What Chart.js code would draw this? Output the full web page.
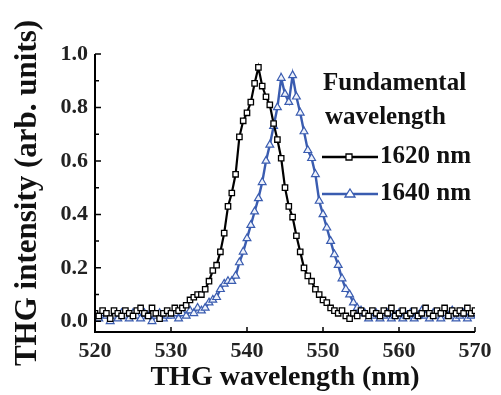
<!DOCTYPE html>
<html>
<head>
<meta charset="utf-8">
<script src="https://cdn.jsdelivr.net/npm/chart.js@4"></script>
<style>
html,body{margin:0;padding:0;background:#fff;}
#wrap{position:relative;width:501px;height:395px;}
</style>
</head>
<body>
<div id="wrap"><canvas id="c" width="501" height="395"></canvas></div>
<script>
const wavelengths = [520,520.5,521,521.5,522,522.5,523,523.5,524,524.5,525,525.5,526,526.5,527,527.5,528,528.5,529,529.5,
530,530.5,531,531.5,532,532.5,533,533.5,534,534.5,535,535.5,536,536.5,537,537.5,538,538.5,539,539.5,
540,540.5,541,541.5,542,542.5,543,543.5,544,544.5,545,545.5,546,546.5,547,547.5,548,548.5,549,549.5,
550,550.5,551,551.5,552,552.5,553,553.5,554,554.5,555,555.5,556,556.5,557,557.5,558,558.5,559,559.5,
560,560.5,561,561.5,562,562.5,563,563.5,564,564.5,565,565.5,566,566.5,567,567.5,568,568.5,569,569.5,570];

const series1620 = [0.03,0.02,0.04,0.03,0.01,0.04,0.03,0.02,0.04,0.03,0.02,0.04,0.05,0.03,0.02,0.05,0.03,0.01,0.03,0.04,
0.03,0.05,0.04,0.05,0.06,0.08,0.09,0.10,0.10,0.12,0.15,0.19,0.21,0.26,0.33,0.43,0.48,0.55,0.69,0.75,
0.78,0.82,0.89,0.95,0.88,0.84,0.81,0.74,0.68,0.61,0.50,0.43,0.39,0.32,0.26,0.20,0.17,0.15,0.12,0.10,
0.08,0.07,0.05,0.04,0.03,0.04,0.02,0.01,0.03,0.02,0.04,0.03,0.02,0.04,0.03,0.02,0.04,0.03,0.05,0.02,
0.03,0.04,0.02,0.03,0.04,0.02,0.03,0.05,0.03,0.02,0.04,0.03,0.05,0.02,0.04,0.03,0.04,0.03,0.05,0.03,0.04];

const series1640 = [0.02,0.01,0.03,0.02,0.00,0.02,0.01,0.03,0.02,0.01,0.03,0.02,0.01,0.03,0.02,0.00,0.02,0.03,0.01,0.02,
0.02,0.03,0.01,0.03,0.02,0.04,0.03,0.05,0.04,0.05,0.07,0.08,0.09,0.12,0.14,0.15,0.15,0.17,0.22,0.26,
0.31,0.36,0.41,0.46,0.52,0.60,0.66,0.73,0.80,0.91,0.85,0.82,0.92,0.84,0.78,0.71,0.64,0.61,0.55,0.45,
0.40,0.35,0.30,0.25,0.21,0.16,0.12,0.10,0.07,0.05,0.04,0.03,0.01,0.02,0.03,0.01,0.02,0.03,0.01,0.02,
0.03,0.01,0.02,0.03,0.01,0.02,0.04,0.02,0.01,0.03,0.02,0.01,0.03,0.02,0.04,0.01,0.02,0.03,0.01,0.02,0.03];

const xTicks = [520,530,540,550,560,570];
const yTicks = [0.0,0.2,0.4,0.6,0.8,1.0];
const legendTitle = ['Fundamental','wavelength'];
const seriesLabels = ['1620 nm','1640 nm'];
const xTitle = 'THG wavelength (nm)';
const yTitle = 'THG intensity (arb. units)';

const BLUE = '#3a5cb0';
const SERIF = '"Liberation Serif","DejaVu Serif",serif';

function pts(ys){ return wavelengths.map((x,i)=>({x:x,y:ys[i]})); }

const innerTicks = {
  id:'innerTicks',
  afterDatasetsDraw(chart){
    const ctx = chart.ctx, xs = chart.scales.x, ys = chart.scales.y, a = chart.chartArea;
    ctx.save();
    ctx.strokeStyle = '#000'; ctx.lineWidth = 1.5;
    ctx.beginPath();
    for (let v=520; v<=570; v+=10){ const p = xs.getPixelForValue(v); ctx.moveTo(p,a.bottom); ctx.lineTo(p,a.bottom-5); }
    for (let i=0;i<=10;i++){ const p = ys.getPixelForValue(i/10); ctx.moveTo(a.left,p); ctx.lineTo(a.left+(i%2===0?6:4),p); }
    ctx.stroke();
    ctx.lineWidth = 2;
    ctx.beginPath();
    ctx.moveTo(a.left,a.top); ctx.lineTo(a.left,a.bottom); ctx.lineTo(a.right,a.bottom);
    ctx.stroke();
    ctx.restore();
  }
};

const customLegend = {
  id:'customLegend',
  afterDraw(chart){
    const ctx = chart.ctx;
    ctx.save();
    ctx.fillStyle = '#111';
    ctx.font = 'bold 25px ' + SERIF;
    ctx.textBaseline = 'middle';
    ctx.textAlign = 'left';
    ctx.fillText(legendTitle[0], 323, 84);
    ctx.fillText(legendTitle[1], 325, 118);
    const rows = [{y:157,c:'#000',shape:'sq'},{y:194,c:BLUE,shape:'tri'}];
    rows.forEach((r,i)=>{
      ctx.strokeStyle = r.c; ctx.lineWidth = 2.5;
      ctx.beginPath(); ctx.moveTo(322,r.y); ctx.lineTo(378,r.y); ctx.stroke();
      ctx.fillStyle = '#fff'; ctx.lineWidth = 1.3;
      ctx.beginPath();
      if (r.shape==='sq'){ ctx.rect(346,r.y-3,6,6); }
      else { ctx.moveTo(350,r.y-5); ctx.lineTo(355,r.y+3); ctx.lineTo(345,r.y+3); ctx.closePath(); }
      ctx.fill(); ctx.stroke();
      ctx.fillStyle = '#111';
      ctx.fillText(seriesLabels[i], 380, r.y);
    });
    ctx.restore();
  }
};

new Chart(document.getElementById('c'), {
  type:'line',
  data:{
    datasets:[
      {label:seriesLabels[0], data:pts(series1620), borderColor:'#000', borderWidth:2.2,
       pointStyle:'rect', pointRadius:3.8, pointBorderWidth:1.3, pointBackgroundColor:'#fff', pointBorderColor:'#000', tension:0},
      {label:seriesLabels[1], data:pts(series1640), borderColor:BLUE, borderWidth:2.4,
       pointStyle:'triangle', pointRadius:4.5, pointBorderWidth:1.2, pointBackgroundColor:'#eef2fb', pointBorderColor:BLUE, tension:0}
    ]
  },
  options:{
    responsive:false, animation:false, devicePixelRatio:1,
    layout:{padding:{top:54,right:26,left:0,bottom:0}},
    plugins:{legend:{display:false}, tooltip:{enabled:false}},
    scales:{
      x:{type:'linear', min:520, max:570,
        afterBuildTicks(s){ s.ticks = xTicks.map(v=>({value:v})); },
        afterFit(s){ s.height = 63; },
        grid:{display:false, drawTicks:false}, border:{display:false},
        ticks:{color:'#222', font:{family:SERIF, size:22, weight:'bold'}, padding:6, maxRotation:0,
          callback:v=>String(v)},
        title:{display:true, text:xTitle, color:'#111', font:{family:SERIF, size:28, weight:'bold', lineHeight:1}, padding:{bottom:3,top:0}}
      },
      y:{min:-0.04, max:1.0,
        afterBuildTicks(s){ s.ticks = yTicks.map(v=>({value:v})); },
        afterFit(s){ s.width = 95; },
        grid:{display:false, drawTicks:false}, border:{display:false},
        ticks:{color:'#222', font:{family:SERIF, size:22, weight:'bold'}, padding:7,
          callback:v=>v.toFixed(1)},
        title:{display:true, text:yTitle, color:'#111', font:{family:SERIF, size:31, weight:'bold', lineHeight:1}, padding:{top:12,bottom:0}}
      }
    }
  },
  plugins:[innerTicks, customLegend]
});
</script>
</body>
</html>
